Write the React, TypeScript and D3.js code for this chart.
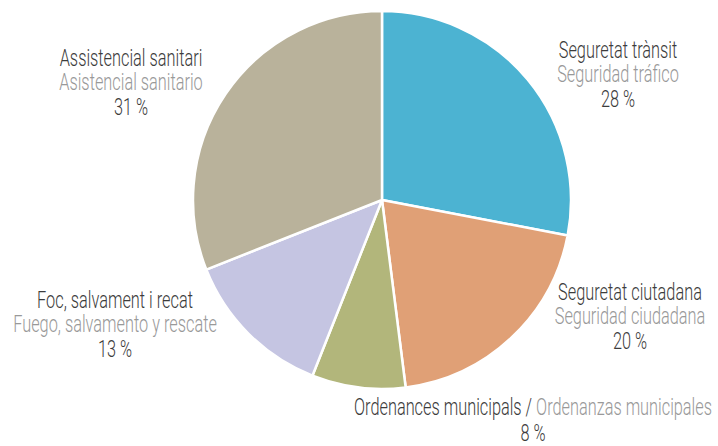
import React, { useRef, useEffect } from "react";
import * as d3 from "d3";

// slice data, clockwise from 12 o'clock
const labelsCa = ["Seguretat trànsit", "Seguretat ciutadana", "Ordenances municipals", "Foc, salvament i recat", "Assistencial sanitari"];
const labelsEs = ["Seguridad tráfico", "Seguridad ciudadana", "Ordenanzas municipales", "Fuego, salvamento y rescate", "Asistencial sanitario"];
const shares = [28, 20, 8, 13, 31];
const colors = ["#4cb3d2", "#e0a076", "#b2b67b", "#c5c5e2", "#b9b29b"];

// where each label block is centred (x) and its first baseline (y)
const labelPos: [number, number][] = [
  [618, 58],
  [630, 300],
  [533, 415],
  [115, 308],
  [131, 66],
];

const W = 718;
const H = 446;
const cx = 382;
const cy = 200;
const radius = 189;
const lineH = 24.5;
const squeeze = 0.71; // no condensed DIN available, so narrow the glyphs

const App: React.FC = () => {
  const ref = useRef<SVGSVGElement | null>(null);

  useEffect(() => {
    if (!ref.current) return;
    const svg = d3.select(ref.current);
    svg.selectAll("*").remove();

    const pie = d3.pie<number>().sort(null).value((d) => d);
    const arcs = pie(shares);
    const arc = d3.arc<d3.PieArcDatum<number>>().innerRadius(0).outerRadius(radius);

    svg.append("g")
      .attr("transform", `translate(${cx},${cy})`)
      .selectAll("path")
      .data(arcs)
      .join("path")
      .attr("d", arc)
      .attr("fill", (_, i) => colors[i])
      .attr("stroke", "#fff")
      .attr("stroke-width", 2.5)
      .attr("stroke-linejoin", "round");

    const labels = svg.append("g")
      .attr("font-family", "Roboto, 'DejaVu Sans', sans-serif")
      .attr("font-weight", 300)
      .attr("font-size", 23)
      .attr("text-anchor", "middle");

    shares.forEach((v, i) => {
      const [x, y] = labelPos[i];
      const g = labels.append("g").attr("transform", `translate(${x},0) scale(${squeeze},1)`);
      if (i === 2) {
        const t = g.append("text").attr("x", 0).attr("y", y);
        t.append("tspan").attr("fill", "#3c3c3c").text(labelsCa[i] + " / ");
        t.append("tspan").attr("fill", "#999999").text(labelsEs[i]);
        g.append("text").attr("x", 0).attr("y", y + lineH + 2).attr("fill", "#3c3c3c").text(`${v} %`);
      } else {
        g.append("text").attr("x", 0).attr("y", y).attr("fill", "#3c3c3c").text(labelsCa[i]);
        g.append("text").attr("x", 0).attr("y", y + lineH).attr("fill", "#999999").text(labelsEs[i]);
        g.append("text").attr("x", 0).attr("y", y + lineH * 2).attr("fill", "#3c3c3c").text(`${v} %`);
      }
    });
  }, []);

  return (
    <div style={{ position: "absolute", left: 0, top: 0, width: W, height: H, background: "#fff" }}>
      <svg ref={ref} width={W} height={H}></svg>
    </div>
  );
};

export default App;
